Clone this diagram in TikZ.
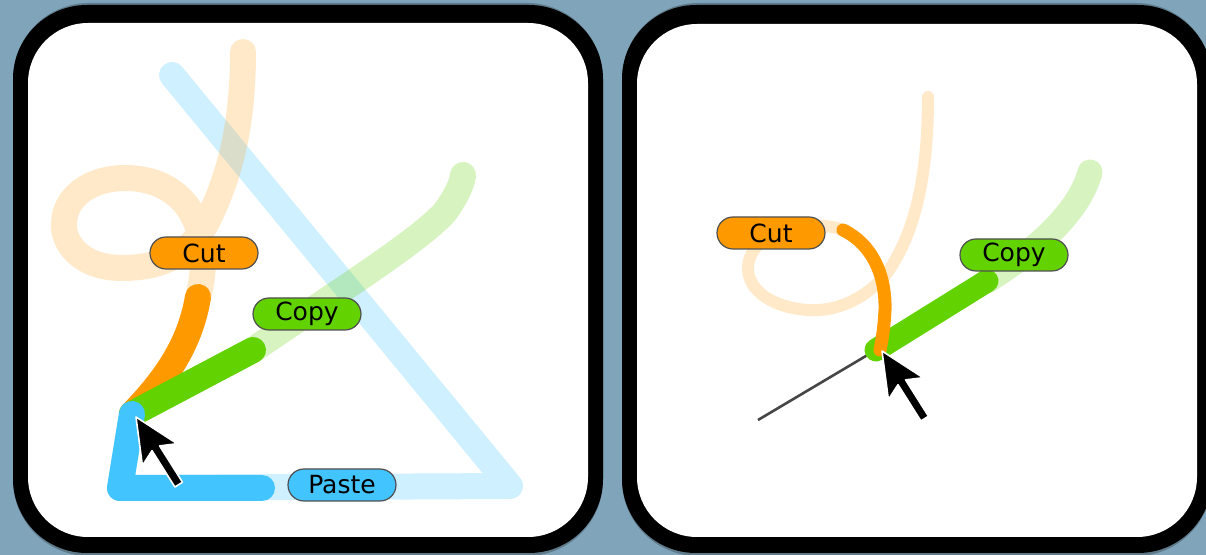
\documentclass[tikz,border=0pt]{standalone}
\usepackage{fontspec}
\setmainfont{DejaVu Sans}
\definecolor{slate}{RGB}{128,165,186}
\definecolor{cutor}{RGB}{255,153,0}
\definecolor{copygr}{RGB}{98,210,0}
\definecolor{pasteb}{RGB}{66,196,255}
\definecolor{tagedge}{RGB}{80,80,80}
\definecolor{guide}{RGB}{70,70,70}
\tikzset{
  stroke/.style={line cap=round, line join=round},
  faint/.style={stroke, draw opacity=0.25},
  fainter/.style={stroke, draw opacity=0.21},
  tag/.style={rounded corners=8pt, draw=tagedge, line width=0.6pt,
    minimum width=54pt, minimum height=16pt, inner sep=0pt,
    font=\fontsize{12.5}{14}\selectfont, text=black},
  panel/.style={fill=black, rounded corners=37pt},
  screen/.style={fill=white, rounded corners=30pt},
  rim/.style={fill=black, opacity=0.25, rounded corners=38pt},
  mousecursor/.pic={
    \filldraw[fill=black, draw=white, line width=0.8pt, line join=round]
      (0,0) -- (6.4,48.6) -- (16,33.7) -- (38.9,70) -- (46.5,65.2)
      -- (23.6,28.9) -- (41.1,26.7) -- cycle;}
}
\begin{document}
\begin{tikzpicture}[x=0.5pt, y=-0.5pt]
  % page and background
  \useasboundingbox (0,0) rectangle (1206,555);
  \clip (0,0) rectangle (1206,555);
  \fill[slate] (0,0) rectangle (1206,555);

  % ---------- left screen ----------
  \fill[rim] (13,3) rectangle (603,556);
  \fill[panel] (13,5) rectangle (603,553);
  \fill[screen] (28,23) rectangle (588,537);

  \coordinate (cornerL) at (132,414);
  \coordinate (cutStartL) at (198,297);
  \coordinate (copyEndL) at (253,350);

  % faint full gestures
  \draw[faint, pasteb, line width=13pt]
    (172,75) -- (510,486) -- (120,488) -- (cornerL);
  \draw[fainter, cutor, line width=13pt]
    (243,52) .. controls (243,130) and (228,180) .. (207,222)
    .. controls (190,255) and (160,268) .. (122,268)
    .. controls (80,268) and (62,242) .. (64,222)
    .. controls (66,193) and (95,178) .. (125,178)
    .. controls (165,178) and (192,200) .. (200,235)
    .. controls (205,255) and (203,280) .. (cutStartL)
    .. controls (190,345) and (165,380) .. (cornerL);
  \draw[faint, copygr, line width=13pt]
    (cornerL) -- (copyEndL)
    .. controls (330,297) and (418,242) .. (445,212)
    .. controls (455,198) and (462,185) .. (463,175);

  % recognised parts
  \draw[stroke, cutor, line width=13pt]
    (cutStartL) .. controls (190,345) and (165,380) .. (cornerL);
  \draw[stroke, copygr, line width=13pt] (cornerL) -- (copyEndL);
  \draw[stroke, pasteb, line width=13pt]
    (cornerL) -- (120,488) -- (262,488);

  \node[tag, fill=cutor] (cutL) at (204,253) {Cut};
  \node[tag, fill=copygr] (copyL) at (307,314) {Copy};
  \node[tag, fill=pasteb] (pasteL) at (342,485) {Paste};

  \pic at (136,417) {mousecursor};

  % ---------- right screen ----------
  \fill[rim] (622,3) rectangle (1212,556);
  \fill[panel] (622,5) rectangle (1212,553);
  \fill[screen] (637,24) rectangle (1197,537);

  \coordinate (cutStartR) at (843,230);
  \coordinate (cornerR) at (876,350);
  \coordinate (copyEndR) at (987,281);
  \coordinate (guideEnd) at (758,420);

  \draw[fainter, cutor, line width=6pt]
    (928,97) .. controls (928,190) and (910,240) .. (887,273)
    .. controls (865,300) and (835,312) .. (808,310)
    .. controls (775,308) and (748,292) .. (748,268)
    .. controls (748,245) and (775,228) .. (805,226)
    .. controls (820,225) and (832,226) .. (cutStartR);
  \draw[faint, copygr, line width=12.5pt]
    (copyEndR) .. controls (1040,248) and (1080,210) .. (1090,172);

  \draw[guide, line width=1.3pt] (guideEnd) -- (cornerR);
  \draw[stroke, copygr, line width=11.5pt] (cornerR) -- (copyEndR);
  \draw[stroke, cutor, line width=6.5pt]
    (cutStartR) .. controls (872,244) and (886,275) .. (885,310)
    .. controls (884,330) and (882,340) .. (880,350);

  \node[tag, fill=cutor] (cutR) at (771,233) {Cut};
  \node[tag, fill=copygr] (copyR) at (1014,255) {Copy};

  \pic at (882,351) {mousecursor};
\end{tikzpicture}
\end{document}
